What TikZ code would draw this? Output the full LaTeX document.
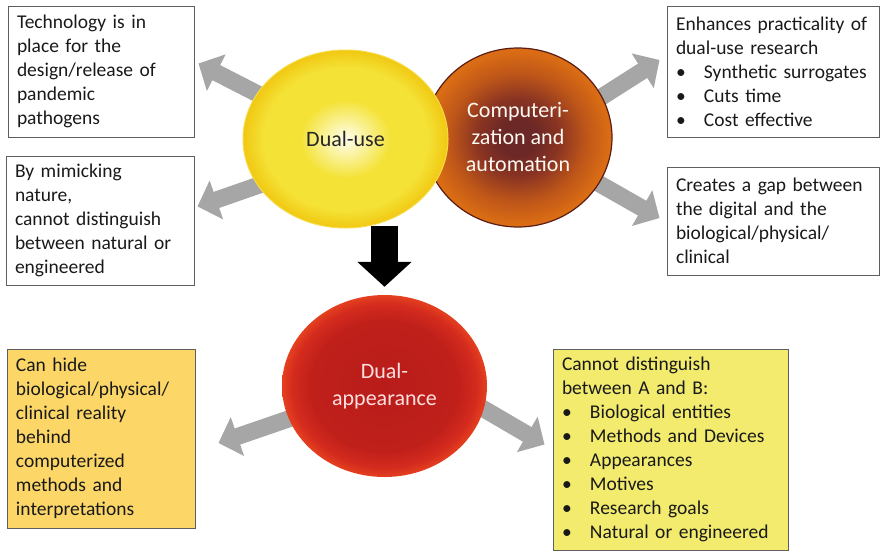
\documentclass[tikz,border=0pt]{standalone}
\usepackage{fontspec}
\setmainfont{Carlito}
\usetikzlibrary{arrows.meta, shapes.geometric, backgrounds}

\definecolor{boxline}{HTML}{5F5F5F}
\definecolor{arrowgray}{HTML}{A6A6A6}
\definecolor{goldfill}{HTML}{FCD768}
\definecolor{lemonfill}{HTML}{F2EB6D}
\definecolor{yelA}{HTML}{FFFDEE}
\definecolor{yelB}{HTML}{FAF29A}
\definecolor{yelC}{HTML}{F4E236}
\definecolor{yelD}{HTML}{F1C812}
\definecolor{yelline}{HTML}{F6DC48}
\definecolor{orgA}{HTML}{6C2826}
\definecolor{orgB}{HTML}{8A3422}
\definecolor{orgC}{HTML}{BE5619}
\definecolor{orgD}{HTML}{D96C14}
\definecolor{orgline}{HTML}{5A1E14}
\definecolor{redA}{HTML}{B81C1A}
\definecolor{redB}{HTML}{C0201A}
\definecolor{redC}{HTML}{D42B1E}
\definecolor{redD}{HTML}{E5401F}

\pgfdeclareradialshading{dualuseshade}{\pgfpoint{0bp}{0bp}}{color(0bp)=(yelA); color(5bp)=(yelB); color(11bp)=(yelC); color(20bp)=(yelC); color(25bp)=(yelD); color(50bp)=(yelD)}
\pgfdeclareradialshading{compshade}{\pgfpoint{0bp}{0bp}}{color(0bp)=(orgA); color(5bp)=(orgA); color(11bp)=(orgB); color(18bp)=(orgC); color(24bp)=(orgD); color(50bp)=(orgD)}
\pgfdeclareradialshading{appshade}{\pgfpoint{0bp}{0bp}}{color(0bp)=(redA); color(18bp)=(redB); color(22.5bp)=(redC); color(25bp)=(redD); color(50bp)=(redD)}

\newcommand{\bul}[1]{\makebox[28pt][l]{\textbullet}#1}

\begin{document}
\begin{tikzpicture}[x=1pt, y=-1pt,
    textbox/.style={draw=boxline, line width=1pt, align=left, inner xsep=9pt,
        font=\fontsize{19.5}{24}\selectfont, text=black!90},
    bubble/.style={ellipse, inner sep=0pt, align=center, shade,
        font=\fontsize{22}{27}\selectfont},
    grayarrow/.style={draw=arrowgray, line width=17pt, -{Triangle[length=20pt,width=40pt]}},
    downarrow/.style={draw=black, line width=27pt, -{Triangle[length=25pt,width=53pt]}}]
    \useasboundingbox (0,0) rectangle (882,552);

    % the three bubbles
    \node[bubble, shading=compshade, draw=orgline, line width=1.2pt, text=white!95!orange,
        minimum width=188pt, minimum height=179pt] (compauto) at (518,137.5)
        {Computeri-\\zation and\\automation};
    \node[bubble, shading=dualuseshade, draw=yelline, line width=1pt, text=black!85,
        minimum width=205pt, minimum height=178pt] (dualuse) at (345.5,139) {Dual-use};
    \node[bubble, shading=appshade, text=white!88!red,
        minimum width=205pt, minimum height=182pt] (dualapp) at (384.5,386)
        {Dual-\\appearance};

    % text boxes
    \node[textbox, minimum height=131pt, text width=168pt] (tech) at (101,71.5)
        {Technology is in\\place for the\\design/release of\\pandemic\\pathogens};
    \node[textbox, minimum height=129pt, text width=170pt] (mimic) at (100,220.5)
        {By mimicking\\nature,\\cannot distinguish\\between natural or\\engineered};
    \node[textbox, minimum height=131pt, text width=194pt] (practical) at (773,71.5)
        {Enhances practicality of\\dual-use research\\\bul{Synthetic surrogates}\\\bul{Cuts time}\\\bul{Cost effective}};
    \node[textbox, minimum height=108pt, text width=194pt] (gap) at (773,221)
        {Creates a gap between\\the digital and the\\biological/physical/\\clinical};
    \node[textbox, fill=goldfill, minimum height=179pt, text width=170pt] (hide) at (101,438.5)
        {Can hide\\biological/physical/\\clinical reality\\behind\\computerized\\methods and\\interpretations};
    \node[textbox, fill=lemonfill, minimum height=201pt, text width=217pt] (distinguish) at (670.5,449.5)
        {Cannot distinguish\\between A and B:\\\bul{Biological entities}\\\bul{Methods and Devices}\\\bul{Appearances}\\\bul{Motives}\\\bul{Research goals}\\\bul{Natural or engineered}};

    % arrows behind the bubbles
    \begin{scope}[on background layer]
        \draw[grayarrow] (dualuse.center) -- ([xshift=4pt,yshift=8pt]tech.east);
        \draw[grayarrow] ([yshift=-16pt]dualuse.center) -- ([xshift=3pt,yshift=14pt]mimic.east);
        \draw[grayarrow] ([xshift=20pt]compauto.center) -- ([xshift=-7pt,yshift=11.5pt]practical.west);
        \draw[grayarrow] (compauto.center) -- ([xshift=-7pt,yshift=3pt]gap.west);
        \draw[grayarrow] (dualapp.center) -- ([xshift=23pt,yshift=-4.5pt]hide.east);
        \draw[grayarrow] ([xshift=60pt]dualapp.center) -- ([xshift=-8pt,yshift=5pt]distinguish.west);
        \draw[downarrow, shorten <=-3pt, shorten >=8pt] (dualapp.north |- dualuse.south) -- (dualapp.north);
    \end{scope}
\end{tikzpicture}
\end{document}
